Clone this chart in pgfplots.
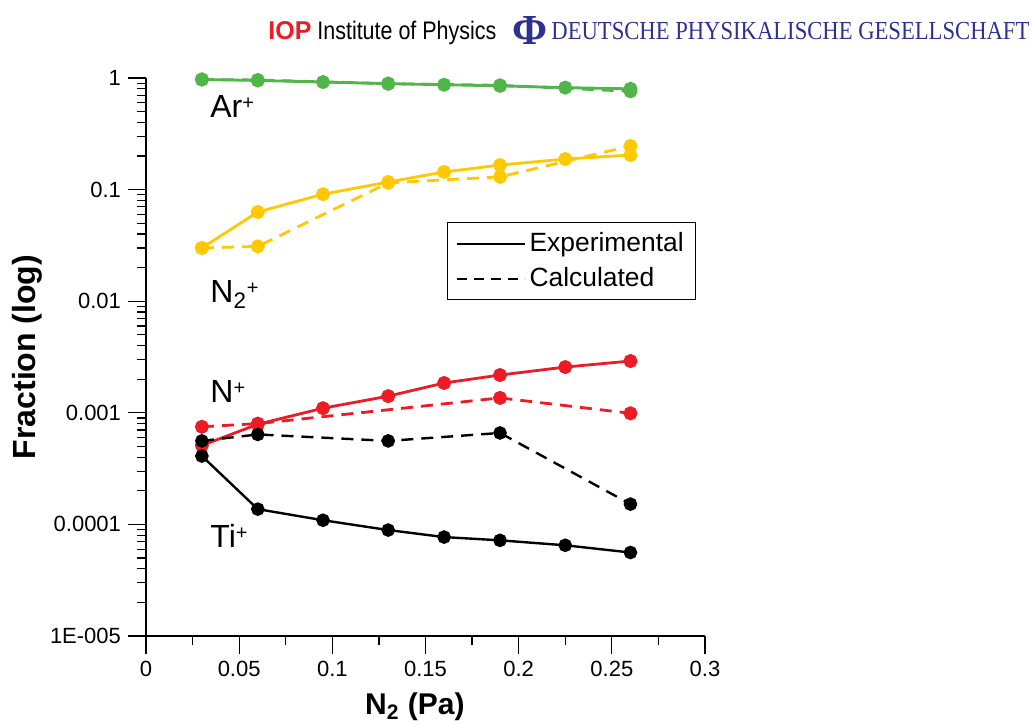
\documentclass[border=0pt]{standalone}
\usepackage{fontspec}
\setmainfont{Liberation Sans}
\newfontfamily\dpgfont{Liberation Serif}
\usepackage{graphicx}
\usepackage{pgfplots}
\pgfplotsset{compat=1.18}
\definecolor{cgreen}{RGB}{80,182,72}
\definecolor{cyellow}{RGB}{255,200,0}
\definecolor{cred}{RGB}{237,28,36}
\definecolor{cblue}{RGB}{46,49,146}
\newcommand{\sps}{\raisebox{4.4bp}{\fontsize{10bp}{11bp}\selectfont +}}
\begin{document}
\begin{tikzpicture}
\path[use as bounding box] (-73bp,-44bp) rectangle (443bp,318bp);
\begin{axis}[
  scale only axis, width=279.5bp, height=279bp,
  xmin=0, xmax=0.3, ymin=1e-5, ymax=1, ymode=log,
  axis x line=bottom, axis y line=left,
  axis line style={-, line width=0.7bp},
  tick align=outside,
  major tick length=9bp, minor tick length=4.5bp,
  tick style={line width=0.6bp, black},
  xtick={0,0.05,0.1,0.15,0.2,0.25,0.3},
  xticklabels={0,0.05,0.1,0.15,0.2,0.25,0.3},
  minor x tick num=1,
  ytick={1e-5,1e-4,1e-3,1e-2,1e-1,1},
  yticklabels={1E-005,0.0001,0.001,0.01,0.1,1},
  /pgf/number format/assume math mode=true,
  ticklabel style={font=\fontsize{11bp}{13bp}\selectfont},
  xlabel={\bfseries N\textsubscript{2} (Pa)},
  xlabel style={font=\fontsize{15bp}{17bp}\selectfont, at={(axis description cs:0.481,-0.127)}, anchor=center},
  ylabel={\bfseries Fraction (log)},
  ylabel style={font=\fontsize{16bp}{18bp}\selectfont, at={(axis description cs:-0.213,0.5)}, anchor=center},
  every axis plot/.append style={line width=1.4bp, mark=*, mark size=2.8bp, mark options={solid}},
  legend style={at={(axis description cs:0.5385,0.742)}, anchor=north west, draw=black, line width=0.6bp,
    font=\fontsize{13.2bp}{15bp}\selectfont, inner xsep=4bp, inner ysep=3bp, row sep=2.5bp},
  legend cell align=left,
  legend image code/.code={\draw[#1] (0bp,0bp) -- (34bp,0bp);},
]
% Ar+
\addplot[cgreen, forget plot] coordinates {(0.03,0.97)(0.06,0.95)(0.095,0.92)(0.13,0.89)(0.16,0.87)(0.19,0.85)(0.225,0.82)(0.26,0.80)};
\addplot[cgreen, dash pattern=on 6bp off 4bp, forget plot] coordinates {(0.03,0.97)(0.06,0.96)(0.13,0.89)(0.19,0.86)(0.26,0.76)};
% N2+
\addplot[cyellow, forget plot] coordinates {(0.03,0.030)(0.06,0.063)(0.095,0.091)(0.13,0.117)(0.16,0.144)(0.19,0.166)(0.225,0.188)(0.26,0.204)};
\addplot[cyellow, dash pattern=on 6bp off 4bp, forget plot] coordinates {(0.03,0.030)(0.06,0.031)(0.13,0.115)(0.19,0.130)(0.26,0.246)};
% N+
\addplot[cred, forget plot] coordinates {(0.03,5.1e-4)(0.06,7.9e-4)(0.095,1.10e-3)(0.13,1.41e-3)(0.16,1.85e-3)(0.19,2.18e-3)(0.225,2.57e-3)(0.26,2.91e-3)};
\addplot[cred, dash pattern=on 6bp off 4bp, forget plot] coordinates {(0.03,7.5e-4)(0.06,8.0e-4)(0.19,1.36e-3)(0.26,9.9e-4)};
% Ti+
\addplot[black, line width=1.2bp, forget plot] coordinates {(0.03,4.1e-4)(0.06,1.37e-4)(0.095,1.09e-4)(0.13,8.9e-5)(0.16,7.7e-5)(0.19,7.2e-5)(0.225,6.5e-5)(0.26,5.6e-5)};
\addplot[black, line width=1.2bp, dash pattern=on 6bp off 4bp, forget plot] coordinates {(0.03,5.6e-4)(0.06,6.4e-4)(0.13,5.6e-4)(0.19,6.6e-4)(0.26,1.52e-4)};
\addlegendimage{black, solid, line width=1bp}
\addlegendentry{Experimental}
\addlegendimage{black, dash pattern=on 5bp off 3.5bp, line width=1bp}
\addlegendentry{Calculated}
\end{axis}
% species labels
\begin{scope}[every node/.style={anchor=base west, inner sep=0pt, font=\fontsize{16bp}{18bp}\selectfont}]
\node at (32bp,259bp) {Ar\sps};
\node at (32bp,166.5bp) {N\textsubscript{2}\sps};
\node at (32bp,116.5bp) {N\sps};
\node at (32bp,44bp) {Ti\sps};
\end{scope}
% header
\node[anchor=base west, inner sep=0pt, text=cred] at (61bp,298bp) {\resizebox{21.5bp}{9bp}{\bfseries IOP}};
\node[anchor=base west, inner sep=0pt] at (85.5bp,298bp) {\resizebox{89.5bp}{9.2bp}{Institute of Physics}};
\node[anchor=center, inner sep=0pt, text=cblue] at (192bp,302.5bp) {\resizebox{17.5bp}{14bp}{\dpgfont\bfseries\char"03A6}};
\node[anchor=base west, inner sep=0pt, text=cblue] at (202.5bp,298bp) {\resizebox{239bp}{8.6bp}{\dpgfont DEUTSCHE PHYSIKALISCHE GESELLSCHAFT}};
\end{tikzpicture}
\end{document}
